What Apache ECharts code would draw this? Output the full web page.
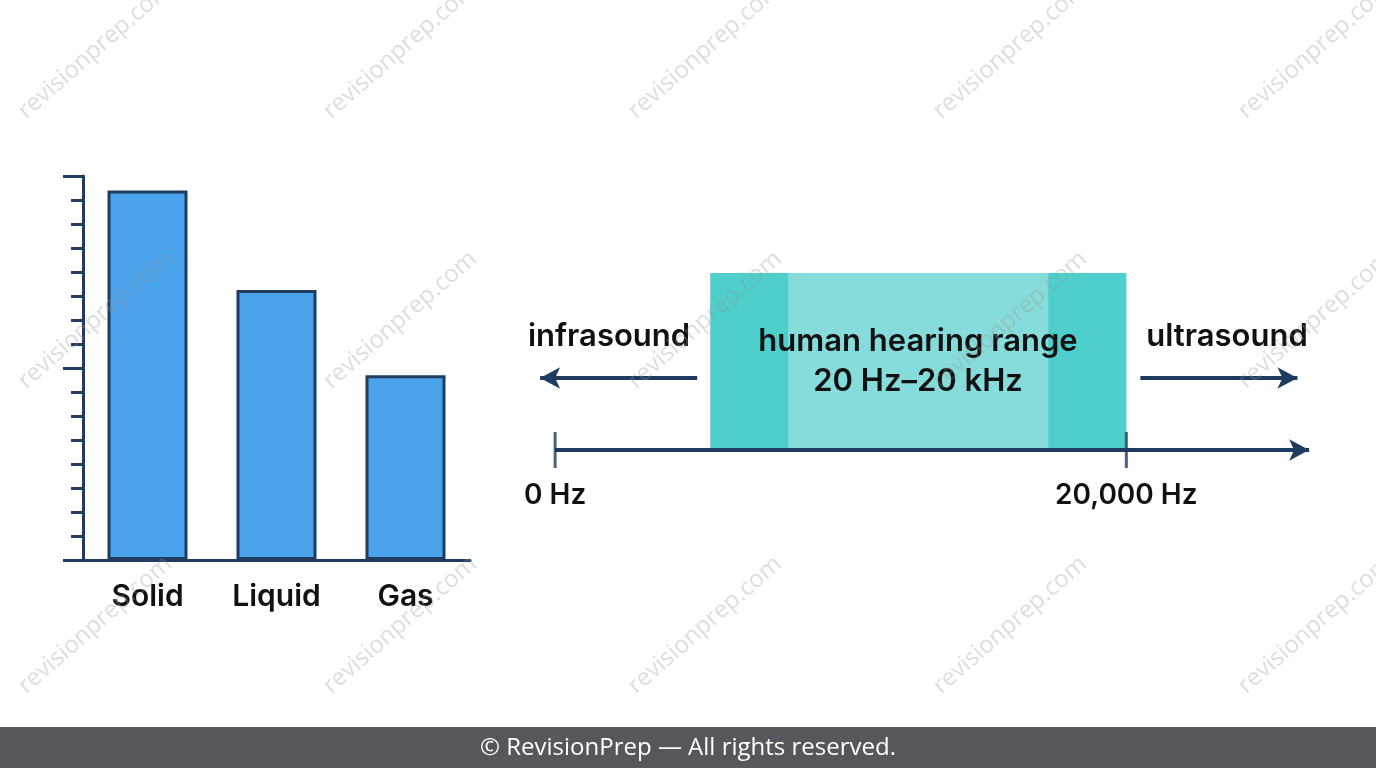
<!DOCTYPE html>
<html><head><meta charset="utf-8">
<script src="https://cdn.jsdelivr.net/npm/echarts@6/dist/echarts.min.js"></script>
<style>html,body{margin:0;padding:0;background:#fff}#c{width:1376px;height:768px}</style>
</head><body><div id="c"></div>
<script>
const categories = ['Solid','Liquid','Gas'];
const speeds = [15.4, 11.25, 7.7];
const bandOuter = [5430, 20000];
const bandInner = [8160, 17270];
const tickHz = [0, 20000];
const tickLabels = {0:'0 Hz', 20000:'20,000 Hz'};
const infraArrow = [4974, -525];
const ultraArrow = [20490, 25990];
const arrowY = 0.407;

const dark = '#1f3b60';
const chart = echarts.init(document.getElementById('c'));
const wm = [];
[95,400,705,1010,1315].forEach(x=>[50,320,625].forEach(y=>wm.push({
  type:'text', x:x, y:y, rotation:0.72, z:300,
  style:{text:'revisionprep.com', fill:'rgba(150,150,150,0.32)', font:'24px "Open Sans"', align:'center', verticalAlign:'middle'}
})));
chart.setOption({
  animation:false,
  grid:[
    {left:83, top:176, width:387, height:384},
    {left:498, top:273, width:814, height:177}
  ],
  xAxis:[
    {gridIndex:0, type:'category', data:categories,
     axisLine:{lineStyle:{color:dark,width:3}}, axisTick:{show:false},
     axisLabel:{color:'#111', fontSize:30, fontWeight:600, margin:22, fontFamily:'Inter'}},
    {gridIndex:1, type:'value', min:-2000, max:26500, splitLine:{show:false},
     axisLine:{show:false}, axisTick:{show:false},
     axisLabel:{customValues:tickHz, formatter:v=>tickLabels[v]||'', color:'#111', fontSize:28, fontWeight:600, margin:32, fontFamily:'Inter'}}
  ],
  yAxis:[
    {gridIndex:0, type:'value', position:'left', min:0, max:16, interval:1, splitLine:{show:false},
     axisLine:{show:true, lineStyle:{color:dark,width:3}}, axisTick:{show:true,length:12,lineStyle:{color:dark,width:3}}, axisLabel:{show:false}},
    {gridIndex:0, type:'value', position:'left', offset:0, min:0, max:16, interval:8, splitLine:{show:false},
     axisLine:{show:false}, axisTick:{show:true,length:20,lineStyle:{color:dark,width:3}}, axisLabel:{show:false}},
    {gridIndex:1, type:'value', min:0, max:1, show:false}
  ],
  series:[
    {type:'bar', xAxisIndex:0, yAxisIndex:0, data:speeds, barWidth:80,
     itemStyle:{color:'#4aa3ea', borderColor:dark, borderWidth:3}},
    {type:'line', xAxisIndex:1, yAxisIndex:2, data:[], symbol:'none',
     markArea:{silent:true, data:[
       [{coord:[bandOuter[0],0], itemStyle:{color:'#4ecfcc'}},{coord:[bandOuter[1],1]}],
       [{coord:[bandInner[0],0], itemStyle:{color:'#86dcda'}},{coord:[bandInner[1],1]}]
     ]},
     markLine:{silent:true, symbol:['none','arrow'], symbolSize:[16,20], label:{show:false},
       lineStyle:{color:dark,width:4,type:'solid'}, data:[
       [{coord:[0,0]},{coord:[26400,0]}],
       [{coord:[infraArrow[0],arrowY]},{coord:[infraArrow[1],arrowY]}],
       [{coord:[ultraArrow[0],arrowY]},{coord:[ultraArrow[1],arrowY]}]
     ]}},
    {type:'scatter', xAxisIndex:1, yAxisIndex:2, symbol:'rect', symbolSize:[3,36],
     itemStyle:{color:dark}, data:tickHz.map(v=>[v,0]), z:5}
  ],
  graphic: wm.concat([
    {type:'text', x:609, y:337, z:200, style:{text:'infrasound', fill:'#111', font:'600 31px Inter', align:'center', verticalAlign:'middle'}},
    {type:'text', x:1227, y:337, z:200, style:{text:'ultrasound', fill:'#111', font:'600 31px Inter', align:'center', verticalAlign:'middle'}},
    {type:'text', x:918, y:362, z:200, style:{text:'human hearing range\n20 Hz–20 kHz', fill:'#111', font:'600 31px Inter', lineHeight:40, align:'center', verticalAlign:'middle'}},
    {type:'rect', shape:{x:0,y:727,width:1376,height:41}, style:{fill:'#55575c'}, z:250},
    {type:'text', x:688, y:748, z:251, style:{text:'© RevisionPrep — All rights reserved.', fill:'#fff', font:'24px "Open Sans"', align:'center', verticalAlign:'middle'}}
  ])
});
</script></body></html>
